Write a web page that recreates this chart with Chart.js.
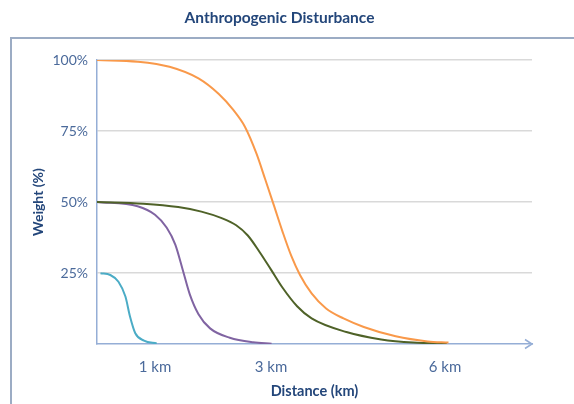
<!DOCTYPE html>
<html>
<head>
<meta charset="utf-8">
<script src="https://cdn.jsdelivr.net/npm/chart.js@4.4.1/dist/chart.umd.min.js"></script>
<style>
    html, body { margin: 0; padding: 0; background: #fff; }
    #wrap { width: 574px; height: 404px; }
</style>
</head>
<body>
<div id="wrap"><canvas id="chart" width="574" height="404"></canvas></div>
<script>
// distance (km) / weight (%)
var cyanKm = [0.06, 0.23, 0.37, 0.49, 0.57, 0.66, 0.81, 1.03];
var cyanW = [24.9, 24.3, 21.9, 16.7, 9.6, 3.8, 1.2, 0.2];

var purpleKm = [0, 0.7, 1.0, 1.2, 1.35, 1.48, 1.6, 1.75, 1.95, 2.29, 2.69, 3.01];
var purpleW = [50, 48.5, 45.5, 41, 35, 26, 17.5, 10.5, 5.5, 2.2, 0.6, 0.1];

var greenKm = [0, 0.8, 1.4, 1.8, 2.15, 2.4, 2.6, 2.8, 3.0, 3.2, 3.45, 3.7, 4.3, 4.9, 5.45, 6.03];
var greenW = [50, 49.4, 48.2, 46.6, 44.3, 41.8, 38.2, 32.5, 26.2, 19.8, 13.3, 9.0, 4.2, 1.6, 0.5, 0.2];

var orangeKm = [0, 0.7, 1.25, 1.75, 2.1, 2.35, 2.55, 2.75, 2.9, 3.05, 3.2, 3.35, 3.5, 3.7, 3.95, 4.25, 4.6, 5.15, 5.7, 6.06];
var orangeW = [100, 99.4, 97.6, 93.5, 88, 82.4, 76.5, 67, 58, 48.8, 39.5, 31, 24.3, 17.8, 12.5, 9.0, 6.0, 2.7, 0.9, 0.5];

var xTicks = [1, 3, 6];
var yTicks = [0, 25, 50, 75, 100];

function pts(xs, ys) {
    var out = [];
    for (var i = 0; i < xs.length; i++) out.push({ x: xs[i], y: ys[i] });
    return out;
}
function line(data, color) {
    return {
        data: data, borderColor: color, borderWidth: 2, pointRadius: 0,
        cubicInterpolationMode: 'monotone', fill: false
    };
}

var axisBlue = '#95AED6';
var tickBlue = '#4B6A9B';
var navy = '#23467A';

var framePlugin = {
    id: 'frame',
    beforeDraw: function (chart) {
        var c = chart.ctx;
        c.save();
        c.strokeStyle = '#9CACC4';
        c.lineWidth = 2;
        c.beginPath();
        c.moveTo(11, 420); c.lineTo(11, 38); c.lineTo(590, 38);
        c.stroke();
        c.restore();
    },
    afterDraw: function (chart) {
        // open arrow head at the end of the x axis
        var c = chart.ctx, a = chart.chartArea;
        c.save();
        c.strokeStyle = axisBlue;
        c.lineWidth = 1.5;
        c.beginPath();
        c.moveTo(a.right - 7, a.bottom - 4.5);
        c.lineTo(a.right, a.bottom);
        c.lineTo(a.right - 7, a.bottom + 4.5);
        c.stroke();
        c.restore();
    }
};

var ctx = document.getElementById('chart').getContext('2d');
window.myChart = new Chart(ctx, {
    type: 'line',
    data: {
        datasets: [
            line(pts(orangeKm, orangeW), '#F9994A'),
            line(pts(greenKm, greenW), '#4F6228'),
            line(pts(purpleKm, purpleW), '#8064A2'),
            line(pts(cyanKm, cyanW), '#4BACC6')
        ]
    },
    options: {
        responsive: false,
        animation: false,
        layout: { padding: { left: 27, right: 42, top: 0, bottom: 0 } },
        plugins: {
            legend: { display: false },
            tooltip: { enabled: false },
            title: {
                display: true,
                text: 'Anthropogenic Disturbance',
                color: navy,
                font: { family: 'Lato', size: 15.5, weight: 'bold' },
                padding: { top: 9, bottom: 32.4 }
            }
        },
        scales: {
            x: {
                type: 'linear', min: 0, max: 7.5,
                afterBuildTicks: function (axis) {
                    axis.ticks = xTicks.map(function (v) { return { value: v }; });
                },
                afterFit: function (axis) { axis.height = 60; },
                grid: { display: false },
                border: { color: axisBlue, width: 1.5 },
                ticks: {
                    padding: 6, color: tickBlue,
                    font: { family: 'Lato', size: 15 },
                    callback: function (v) { return v + ' km'; }
                },
                title: {
                    display: true, text: 'Distance (km)', color: navy,
                    font: { family: 'Lato', size: 14.5, weight: 'bold' },
                    padding: { top: 0, bottom: 3.5 }
                }
            },
            y: {
                min: 0, max: 100,
                afterBuildTicks: function (axis) {
                    axis.ticks = yTicks.map(function (v) { return { value: v }; });
                },
                afterFit: function (axis) { axis.width = 70; },
                grid: {
                    drawTicks: false,
                    color: function (c) { return c.tick && c.tick.value === 0 ? 'rgba(0,0,0,0)' : '#D9D9D9'; },
                    lineWidth: 1.5
                },
                border: { color: axisBlue, width: 1.5 },
                ticks: {
                    padding: 9, color: tickBlue,
                    font: { family: 'Lato', size: 14 },
                    callback: function (v) { return v === 0 ? '' : v + '%'; }
                },
                title: {
                    display: true, text: 'Weight (%)', color: navy,
                    font: { family: 'Lato', size: 14, weight: 'bold' },
                    padding: { top: 3, bottom: 0 }
                }
            }
        }
    },
    plugins: [framePlugin]
});
</script>
</body>
</html>
